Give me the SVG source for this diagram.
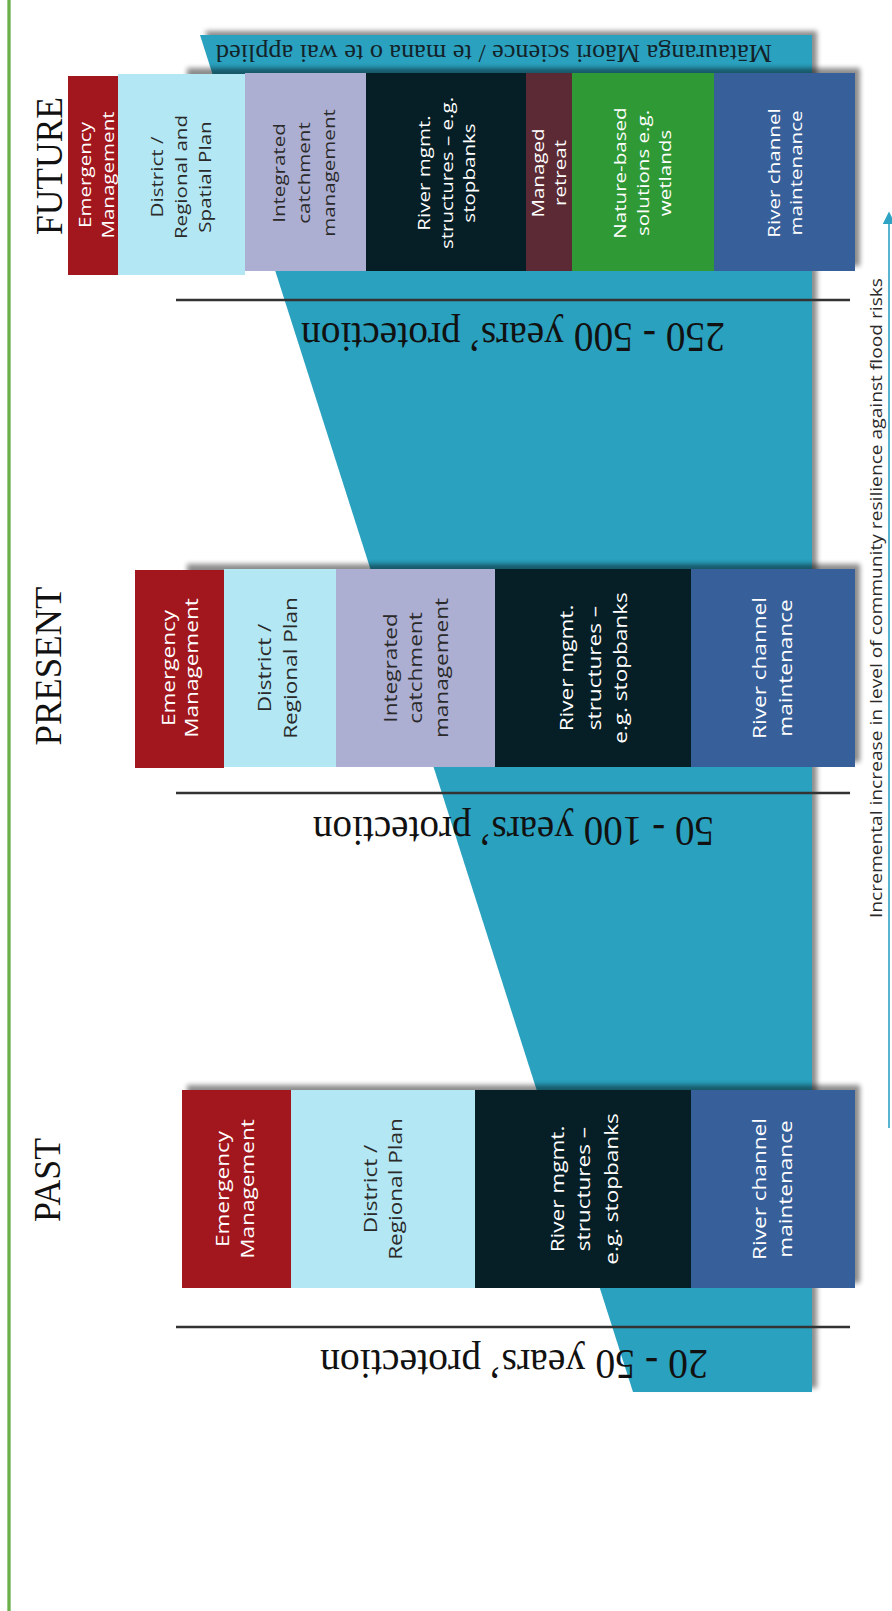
<svg xmlns="http://www.w3.org/2000/svg" width="892" height="1611" viewBox="0 0 892 1611">
<defs>
<filter id="ds" x="-10%" y="-10%" width="120%" height="120%"><feDropShadow dx="5" dy="-4" stdDeviation="2.5" flood-color="#000" flood-opacity="0.45"/></filter>
<filter id="blur" x="-10%" y="-20%" width="120%" height="140%"><feGaussianBlur stdDeviation="2.5"/></filter>
<marker id="ah" viewBox="0 0 10 10" refX="8" refY="5" markerWidth="8" markerHeight="8" orient="auto"><path d="M0,0 L10,5 L0,10 z" fill="#2FA3C3"/></marker>
<style>
.sans{font-family:"Open Sans","Noto Sans","Liberation Sans",sans-serif;font-weight:500;}
.serif{font-family:"Liberation Serif","DejaVu Serif",serif;fill:#111;}
.w{fill:#fff;} .d{fill:#2a2a2a;}
.f{font-size:17px;} .p{font-size:18.5px;}
.red{fill:#A2161E;} .lb{fill:#B3E7F3;} .lav{fill:#ADAFD2;} .dk{fill:#061E25;} .mr{fill:#5C2A34;} .gr{fill:#2F9A35;} .bl{fill:#37609B;}
.hl{stroke:#333;stroke-width:2.5;}
.sh{fill:#000;opacity:0.45;}
</style>
</defs>
<rect width="892" height="1611" fill="#fff"/>
<line x1="9" y1="0" x2="9" y2="1611" stroke="#7DB95F" stroke-width="3.5"/>
<line x1="9" y1="0" x2="9" y2="1611" stroke="#5FA83F" stroke-width="1.2"/>

<g id="band">
<polygon points="200,35 812,35 812,1392 633,1392" fill="#2BA1BE" filter="url(#ds)"/>
<text class="serif" transform="translate(494,45) rotate(180)" text-anchor="middle" font-size="25" textLength="556" lengthAdjust="spacingAndGlyphs" style="fill:#13232a">Mātauranga Māori  science / te mana o te wai applied</text>
</g>

<g id="lines">
<line class="hl" x1="176" y1="300" x2="850" y2="300"/>
<line class="hl" x1="176" y1="793" x2="850" y2="793"/>
<line class="hl" x1="176" y1="1327" x2="850" y2="1327"/>
</g>

<g id="protection">
<text class="serif" transform="translate(513,323) rotate(180)" text-anchor="middle" font-size="43" textLength="424" lengthAdjust="spacingAndGlyphs">250 - 500 years’ protection</text>
<text class="serif" transform="translate(513.5,817) rotate(180)" text-anchor="middle" font-size="43" textLength="401" lengthAdjust="spacingAndGlyphs">50 - 100 years’ protection</text>
<text class="serif" transform="translate(514,1350) rotate(180)" text-anchor="middle" font-size="43" textLength="388" lengthAdjust="spacingAndGlyphs">20 - 50 years’ protection</text>
</g>

<g id="era-labels">
<text class="serif" transform="translate(62,166) rotate(-90)" text-anchor="middle" font-size="38" textLength="138" lengthAdjust="spacingAndGlyphs">FUTURE</text>
<text class="serif" transform="translate(61,666) rotate(-90)" text-anchor="middle" font-size="38" textLength="159" lengthAdjust="spacingAndGlyphs">PRESENT</text>
<text class="serif" transform="translate(60,1180) rotate(-90)" text-anchor="middle" font-size="38" textLength="84" lengthAdjust="spacingAndGlyphs">PAST</text>
</g>

<!-- FUTURE ROW -->
<g id="future">
<rect class="sh" x="187" y="68" width="673" height="198" filter="url(#blur)"/>
<g id="f-em"><rect class="red" x="68" y="76" width="50" height="199"/>
<g class="sans f w" text-anchor="middle" transform="translate(0,175)">
<text transform="translate(91,0) rotate(-90) scale(1.21,1)">Emergency</text>
<text transform="translate(114,0) rotate(-90) scale(1.21,1)">Management</text></g></g>
<g id="f-dist"><rect class="lb" x="118" y="74" width="127" height="201"/>
<g class="sans f d" text-anchor="middle" transform="translate(0,177)">
<text transform="translate(163,0) rotate(-90) scale(1.21,1)">District /</text>
<text transform="translate(187,0) rotate(-90) scale(1.21,1)">Regional and</text>
<text transform="translate(211,0) rotate(-90) scale(1.21,1)">Spatial Plan</text></g></g>
<g id="f-icm"><rect class="lav" x="245" y="73" width="121" height="198"/>
<g class="sans f d" text-anchor="middle" transform="translate(0,173)">
<text transform="translate(285,0) rotate(-90) scale(1.21,1)">Integrated</text>
<text transform="translate(310,0) rotate(-90) scale(1.21,1)">catchment</text>
<text transform="translate(335,0) rotate(-90) scale(1.21,1)">management</text></g></g>
<g id="f-river"><rect class="dk" x="366" y="73" width="160" height="198"/>
<g class="sans f w" text-anchor="middle" transform="translate(0,173)">
<text transform="translate(430,0) rotate(-90) scale(1.21,1)">River mgmt.</text>
<text transform="translate(453,0) rotate(-90) scale(1.21,1)">structures – e.g.</text>
<text transform="translate(475,0) rotate(-90) scale(1.21,1)">stopbanks</text></g></g>
<g id="f-retreat"><rect class="mr" x="526" y="73" width="46" height="198"/>
<g class="sans f w" text-anchor="middle" transform="translate(0,173)">
<text transform="translate(544,0) rotate(-90) scale(1.21,1)">Managed</text>
<text transform="translate(566,0) rotate(-90) scale(1.21,1)">retreat</text></g></g>
<g id="f-nature"><rect class="gr" x="572" y="73" width="142" height="198"/>
<g class="sans f w" text-anchor="middle" transform="translate(0,173)">
<text transform="translate(626,0) rotate(-90) scale(1.21,1)">Nature-based</text>
<text transform="translate(649,0) rotate(-90) scale(1.21,1)">solutions e.g.</text>
<text transform="translate(671,0) rotate(-90) scale(1.21,1)">wetlands</text></g></g>
<g id="f-channel"><rect class="bl" x="714" y="73" width="141" height="198"/>
<g class="sans f w" text-anchor="middle" transform="translate(0,173)">
<text transform="translate(780,0) rotate(-90) scale(1.21,1)">River channel</text>
<text transform="translate(802,0) rotate(-90) scale(1.21,1)">maintenance</text></g></g>
</g>

<!-- PRESENT ROW -->
<g id="present">
<rect class="sh" x="187" y="564" width="673" height="198" filter="url(#blur)"/>
<g id="p-em"><rect class="red" x="135" y="570" width="89" height="198"/>
<g class="sans p w" text-anchor="middle" transform="translate(0,668)">
<text transform="translate(174.5,0) rotate(-90) scale(1.22,1)">Emergency</text>
<text transform="translate(197.5,0) rotate(-90) scale(1.22,1)">Management</text></g></g>
<g id="p-dist"><rect class="lb" x="224" y="569" width="112" height="198"/>
<g class="sans p d" text-anchor="middle" transform="translate(0,668)">
<text transform="translate(270.5,0) rotate(-90) scale(1.22,1)">District /</text>
<text transform="translate(296.5,0) rotate(-90) scale(1.22,1)">Regional Plan</text></g></g>
<g id="p-icm"><rect class="lav" x="336" y="569" width="159" height="198"/>
<g class="sans p d" text-anchor="middle" transform="translate(0,668)">
<text transform="translate(396.5,0) rotate(-90) scale(1.22,1)">Integrated</text>
<text transform="translate(421.5,0) rotate(-90) scale(1.22,1)">catchment</text>
<text transform="translate(447.5,0) rotate(-90) scale(1.22,1)">management</text></g></g>
<g id="p-river"><rect class="dk" x="495" y="569" width="196" height="198"/>
<g class="sans p w" text-anchor="middle" transform="translate(0,668)">
<text transform="translate(572.5,0) rotate(-90) scale(1.22,1)">River mgmt.</text>
<text transform="translate(600.5,0) rotate(-90) scale(1.22,1)">structures –</text>
<text transform="translate(626.5,0) rotate(-90) scale(1.22,1)">e.g. stopbanks</text></g></g>
<g id="p-channel"><rect class="bl" x="691" y="569" width="164" height="198"/>
<g class="sans p w" text-anchor="middle" transform="translate(0,668)">
<text transform="translate(765.5,0) rotate(-90) scale(1.22,1)">River channel</text>
<text transform="translate(791.5,0) rotate(-90) scale(1.22,1)">maintenance</text></g></g>
</g>

<!-- PAST ROW -->
<g id="past">
<rect class="sh" x="187" y="1085" width="673" height="198" filter="url(#blur)"/>
<g id="pa-em"><rect class="red" x="182" y="1090" width="109" height="198"/>
<g class="sans p w" text-anchor="middle" transform="translate(0,1189)">
<text transform="translate(228.5,0) rotate(-90) scale(1.22,1)">Emergency</text>
<text transform="translate(253.5,0) rotate(-90) scale(1.22,1)">Management</text></g></g>
<g id="pa-dist"><rect class="lb" x="291" y="1090" width="184" height="198"/>
<g class="sans p d" text-anchor="middle" transform="translate(0,1189)">
<text transform="translate(376.5,0) rotate(-90) scale(1.22,1)">District /</text>
<text transform="translate(401.5,0) rotate(-90) scale(1.22,1)">Regional Plan</text></g></g>
<g id="pa-river"><rect class="dk" x="475" y="1090" width="216" height="198"/>
<g class="sans p w" text-anchor="middle" transform="translate(0,1189)">
<text transform="translate(563.5,0) rotate(-90) scale(1.22,1)">River mgmt.</text>
<text transform="translate(589.5,0) rotate(-90) scale(1.22,1)">structures –</text>
<text transform="translate(617.5,0) rotate(-90) scale(1.22,1)">e.g. stopbanks</text></g></g>
<g id="pa-channel"><rect class="bl" x="691" y="1090" width="164" height="198"/>
<g class="sans p w" text-anchor="middle" transform="translate(0,1189)">
<text transform="translate(765.5,0) rotate(-90) scale(1.22,1)">River channel</text>
<text transform="translate(791.5,0) rotate(-90) scale(1.22,1)">maintenance</text></g></g>
</g>

<g id="connectors">
<line x1="889" y1="1128" x2="889" y2="214" stroke="#2FA3C3" stroke-width="1.6" marker-end="url(#ah)"/>
</g>
<g id="axis-label">
<text class="sans" style="font-weight:400" transform="translate(882,598) rotate(-90)" text-anchor="middle" font-size="17" textLength="640" lengthAdjust="spacingAndGlyphs" fill="#2a2a2a">Incremental increase in level of community resilience against flood risks</text>
</g>
</svg>
